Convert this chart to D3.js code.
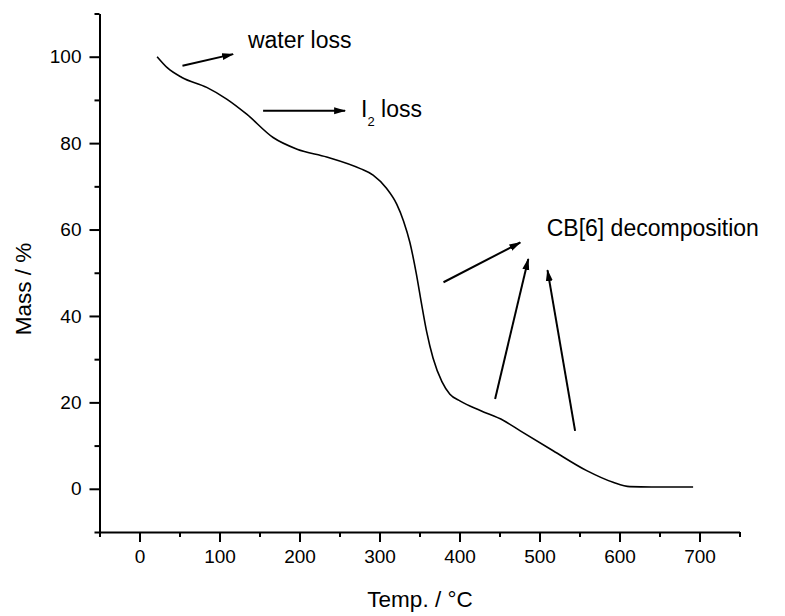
<!DOCTYPE html>
<html>
<head>
<meta charset="UTF-8">
<title>tga_cb6_i2</title>
<style type="text/css">
	body { margin: 0; background: #fff; }
	text { font-family: "Liberation Sans", Arial, sans-serif; fill: #000; }
	.axis path, .axis line { stroke: #000; stroke-width: 2px; }
	.axis text { font-size: 19px; }
	.title { font-size: 22.5px; }
	.note { font-size: 23px; }
</style>
<script type="text/javascript" src="https://cdn.jsdelivr.net/npm/d3@7"></script>
</head>
<body>
<div id="div_main"></div>
<script type="text/javascript">

	// TGA curve
	var temps  = [22, 35, 53, 84, 109, 134, 167, 197, 234, 276, 292, 309, 321.5, 330, 338, 346, 352, 359, 367, 378, 388, 401, 426, 455, 476, 517, 559, 592, 613, 640, 692];
	var masses = [100, 97.4, 95.2, 92.9, 90.2, 86.7, 81.3, 78.6, 76.8, 74.1, 72.6, 69.5, 65.9, 62, 57, 49.8, 43.4, 36.3, 30.2, 24.8, 21.9, 20.3, 18.1, 15.8, 13.4, 8.8, 4.2, 1.5, 0.5, 0.4, 0.4];

	var xMajor = [0, 100, 200, 300, 400, 500, 600, 700];
	var xMinor = [-50, 50, 150, 250, 350, 450, 550, 650, 750];
	var yMajor = [0, 20, 40, 60, 80, 100];
	var yMinor = [-10, 10, 30, 50, 70, 90, 110];

	// annotations, in data units: [x1, y1, x2, y2]
	var arrows = [
		[53.7, 97.9, 117, 100.6],
		[154.5, 87.5, 257, 87.5],
		[380, 47.8, 476, 57],
		[444.5, 20.8, 486, 53.2],
		[544.5, 13.4, 510, 50.6]
	];
	var notes = [
		{ x: 135.5, y: 102, main: "water loss" },
		{ x: 277, y: 86, main: "I", sub: "2", rest: " loss" },
		{ x: 509, y: 58.6, main: "CB[6] decomposition" }
	];

	var svg_w = 785, svg_h = 616;

	var svg = d3.select("#div_main")
				.append("svg")
					.attr("width", svg_w)
					.attr("height", svg_h);

	var scaleX = d3.scaleLinear().domain([-50, 750]).range([99.5, 739.5]);
	var scaleY = d3.scaleLinear().domain([-10, 110]).range([532, 13.5]);

	// minor ticks
	svg.append("g")
			.attr("class", "axis")
			.attr("transform", "translate(0,532)")
			.call(d3.axisBottom(scaleX).tickValues(xMinor).tickSize(5).tickFormat(""))
			.select(".domain").remove();
	svg.append("g")
			.attr("class", "axis")
			.attr("transform", "translate(99.5,0)")
			.call(d3.axisLeft(scaleY).tickValues(yMinor).tickSize(5).tickFormat(""))
			.select(".domain").remove();

	// major ticks + axis lines
	var gx = svg.append("g")
			.attr("class", "axis")
			.attr("transform", "translate(0,532)")
			.call(d3.axisBottom(scaleX).tickValues(xMajor).tickSize(10).tickSizeOuter(0).tickPadding(8));
	var gy = svg.append("g")
			.attr("class", "axis")
			.attr("transform", "translate(99.5,0)")
			.call(d3.axisLeft(scaleY).tickValues(yMajor).tickSize(10).tickSizeOuter(0).tickPadding(8));

	gx.selectAll("text").attr("fill", "#000");
	gy.selectAll("text").attr("fill", "#000");

	// axis titles
	svg.append("text")
			.attr("class", "title")
			.attr("x", 420)
			.attr("y", 607)
			.attr("text-anchor", "middle")
			.text("Temp. / °C");

	svg.append("text")
			.attr("class", "title")
			.attr("transform", "translate(31,289) rotate(-90)")
			.attr("text-anchor", "middle")
			.text("Mass / %");

	// curve
	var points = temps.map(function (t, i) { return [t, masses[i]]; });
	var line = d3.line()
			.x(function (d) { return scaleX(d[0]); })
			.y(function (d) { return scaleY(d[1]); })
			.curve(d3.curveMonotoneX);

	svg.append("path")
			.datum(points)
			.attr("d", line)
			.attr("fill", "none")
			.attr("stroke", "#000")
			.attr("stroke-width", 1.6);

	// arrow heads
	svg.append("defs").append("marker")
			.attr("id", "head")
			.attr("viewBox", "0 0 12 8")
			.attr("refX", 11)
			.attr("refY", 4)
			.attr("markerWidth", 12)
			.attr("markerHeight", 8)
			.attr("markerUnits", "userSpaceOnUse")
			.attr("orient", "auto")
		.append("path")
			.attr("d", "M0,0.5 L12,4 L0,7.5 Z")
			.attr("fill", "#000");

	svg.selectAll("line.arrow")
			.data(arrows)
			.enter()
			.append("line")
				.attr("class", "arrow")
				.attr("x1", function (d) { return scaleX(d[0]); })
				.attr("y1", function (d) { return scaleY(d[1]); })
				.attr("x2", function (d) { return scaleX(d[2]); })
				.attr("y2", function (d) { return scaleY(d[3]); })
				.attr("stroke", "#000")
				.attr("stroke-width", 2)
				.attr("marker-end", "url(#head)");

	// notes
	var t = svg.selectAll("text.note")
			.data(notes)
			.enter()
			.append("text")
				.attr("class", "note")
				.attr("x", function (d) { return scaleX(d.x); })
				.attr("y", function (d) { return scaleY(d.y); });

	t.append("tspan").text(function (d) { return d.main; });
	t.filter(function (d) { return d.sub; })
		.append("tspan")
			.attr("dy", 9)
			.attr("font-size", "13px")
			.text(function (d) { return d.sub; });
	t.filter(function (d) { return d.rest; })
		.append("tspan")
			.attr("dy", -9)
			.text(function (d) { return d.rest; });

</script>
</body>
</html>
